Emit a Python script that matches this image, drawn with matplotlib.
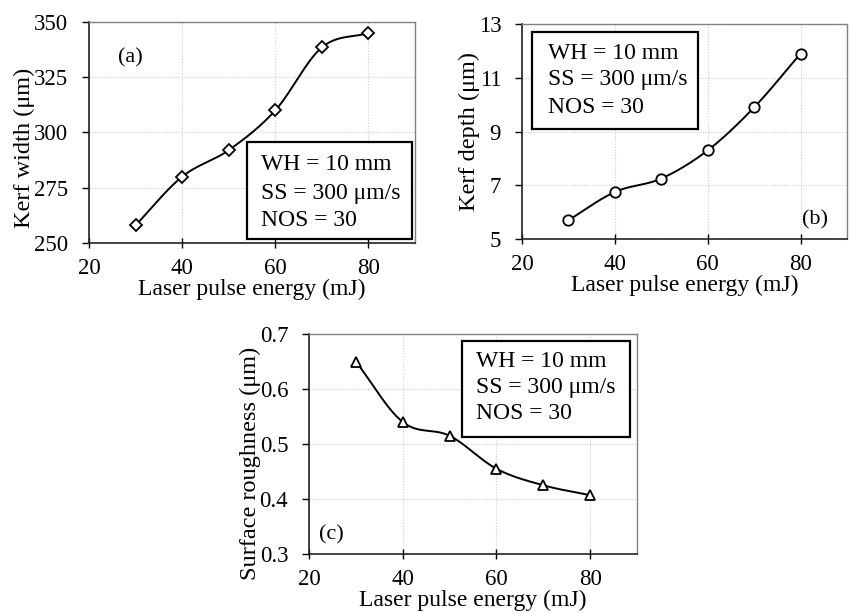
import numpy as np
import matplotlib

matplotlib.use("Agg")
from matplotlib import pyplot as plt
from matplotlib.patches import Rectangle
from matplotlib.ticker import FormatStrFormatter

plt.rcParams["font.family"] = ["Liberation Serif", "DejaVu Serif"]

energy = [30, 40, 50, 60, 70, 80]
kerf_width = [258, 280, 292, 310, 338.5, 345]
kerf_depth = [5.7, 6.75, 7.25, 8.3, 9.9, 11.9]
roughness = [0.65, 0.54, 0.515, 0.455, 0.425, 0.407]

box_lines = ["WH = 10 mm", "SS = 300 \u03bcm/s", "NOS = 30"]
x_ticks = [20, 40, 60, 80]


def smooth(x, y, n=30):
    # Catmull-Rom curve through the data points (like Excel's smoothed line)
    x = np.asarray(x, float)
    y = np.asarray(y, float)
    px = np.concatenate([[2 * x[0] - x[1]], x, [2 * x[-1] - x[-2]]])
    py = np.concatenate([[2 * y[0] - y[1]], y, [2 * y[-1] - y[-2]]])
    t = np.linspace(0, 1, n)
    xs, ys = [], []
    for i in range(1, len(px) - 2):
        for p, out in ((px, xs), (py, ys)):
            p0, p1, p2, p3 = p[i - 1], p[i], p[i + 1], p[i + 2]
            out.append(0.5 * (2 * p1 + (-p0 + p2) * t
                              + (2 * p0 - 5 * p1 + 4 * p2 - p3) * t ** 2
                              + (-p0 + 3 * p1 - 3 * p2 + p3) * t ** 3))
    return np.concatenate(xs), np.concatenate(ys)


def panel(fig, rect, y, ylim, yticks, ylabel, ylabel_y, marker, ms, tag, tag_xy,
          box, text_x, text_ys):
    ax = fig.add_axes(rect)
    sx, sy = smooth(energy, y)
    ax.plot(sx, sy, color="black", linewidth=1.4, zorder=3)
    ax.plot(energy, y, linestyle="none", marker=marker, markersize=ms,
            markerfacecolor="white", markeredgecolor="black", markeredgewidth=1.3, zorder=4)
    ax.set_xlim(20, 90)
    ax.set_ylim(*ylim)
    ax.set_xticks(x_ticks)
    ax.set_yticks(yticks)
    ax.grid(True, color="#cccccc", linestyle=(0, (1, 1.5)), linewidth=0.8)
    ax.set_axisbelow(True)
    for s in ("top", "right"):
        ax.spines[s].set_color("#808080")
        ax.spines[s].set_linewidth(1.0)
    for s in ("left", "bottom"):
        ax.spines[s].set_color("#222222")
        ax.spines[s].set_linewidth(1.2)
    ax.tick_params(axis="x", direction="inout", length=7, width=1.0, labelsize=16.5, pad=7)
    ax.tick_params(axis="y", direction="out", length=5, width=1.0, labelsize=16.5, pad=10)
    ax.set_xlabel("Laser pulse energy (mJ)", fontsize=17, labelpad=0)
    ax.set_ylabel(ylabel, fontsize=17.5, labelpad=-1, y=ylabel_y)
    ax.text(tag_xy[0], tag_xy[1], tag, transform=ax.transAxes, fontsize=16,
            ha="left", va="center")
    x0, y0, x1, y1 = box
    ax.add_patch(Rectangle((x0, y0), x1 - x0, y1 - y0, transform=ax.transAxes,
                           facecolor="white", edgecolor="black", linewidth=1.6, zorder=5))
    for line, ty in zip(box_lines, text_ys):
        ax.text(text_x, ty, line, transform=ax.transAxes, fontsize=17,
                ha="left", va="center", zorder=6)
    return ax


fig = plt.figure(figsize=(8.53, 6.13), dpi=100)

panel(fig, [0.1043, 0.6036, 0.3822, 0.3605], kerf_width, (250, 350),
      [250, 275, 300, 325, 350], "Kerf width (\u03bcm)", 0.43, "D", 6.5,
      "(a)", (0.09, 0.84), (0.485, 0.018, 0.991, 0.457), 0.528, [0.353, 0.226, 0.104])

panel(fig, [0.612, 0.6101, 0.381, 0.3507], kerf_depth, (5, 13),
      [5, 7, 9, 11, 13], "Kerf depth (\u03bcm)", 0.5, "o", 7.5,
      "(b)", (0.86, 0.09), (0.031, 0.512, 0.542, 0.963), 0.08, [0.865, 0.74, 0.614])

ax_c = panel(fig, [0.3623, 0.0962, 0.3845, 0.3589], roughness, (0.3, 0.7),
             [0.3, 0.4, 0.5, 0.6, 0.7], "Surface roughness (\u03bcm)", 0.41, "^", 7.5,
             "(c)", (0.03, 0.085), (0.466, 0.532, 0.979, 0.968), 0.509, [0.873, 0.755, 0.641])
ax_c.yaxis.set_major_formatter(FormatStrFormatter("%.1f"))

fig.savefig("out.png", dpi=100)
